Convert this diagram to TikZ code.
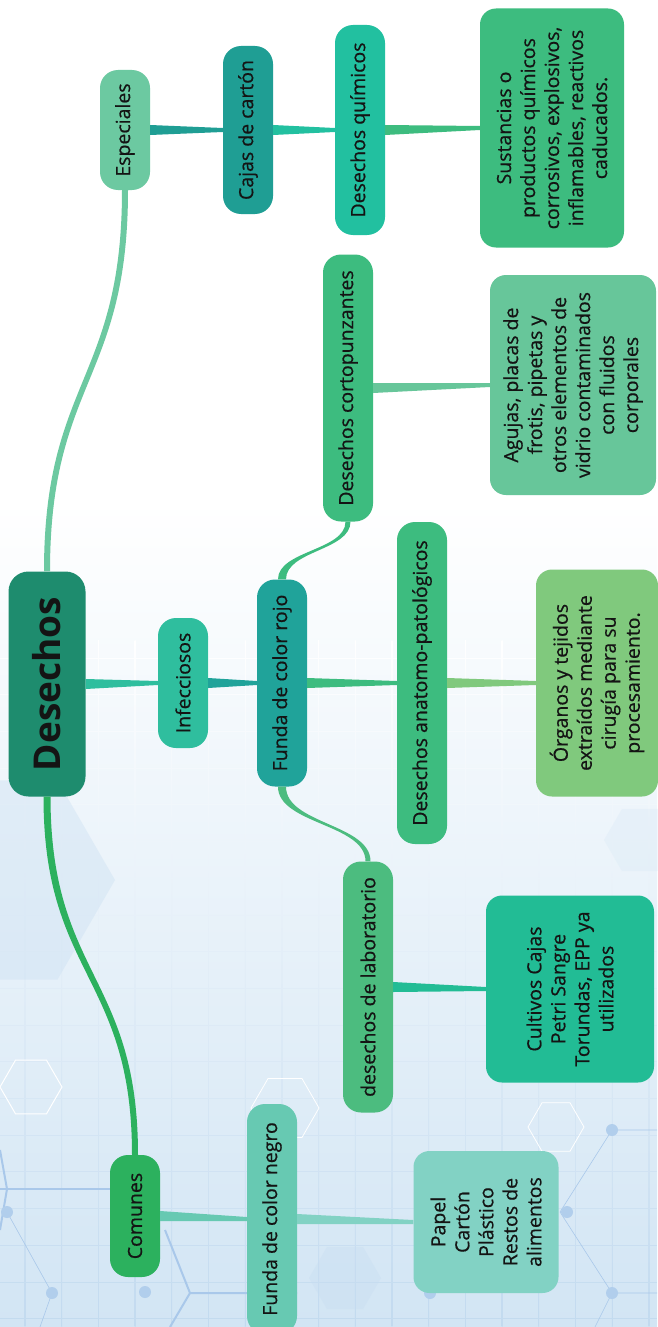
\documentclass[tikz,border=0pt]{standalone}
\usepackage{fontspec}
\setmainfont{Open Sans}
\newfontfamily\medfont{Open Sans}[FakeBold=0.6]
\usetikzlibrary{calc}

\definecolor{ink}{HTML}{141414}
\definecolor{bgblue}{HTML}{D2E5F4}
\definecolor{gridc}{HTML}{C2DAEF}
\definecolor{netc}{HTML}{A9C8EA}
\definecolor{rootc}{HTML}{1E8C6E}
\definecolor{especc}{HTML}{6CC9A1}
\definecolor{cajac}{HTML}{1F9E94}
\definecolor{quimc}{HTML}{22C0A0}
\definecolor{sustc}{HTML}{3DBC7F}
\definecolor{cortoc}{HTML}{3DBC7F}
\definecolor{agujc}{HTML}{67C69A}
\definecolor{infecc}{HTML}{2FBE9E}
\definecolor{rojoc}{HTML}{20A39A}
\definecolor{anatc}{HTML}{3DBC7F}
\definecolor{organc}{HTML}{80C97D}
\definecolor{labc}{HTML}{4CBC7F}
\definecolor{cultc}{HTML}{22BC95}
\definecolor{comunc}{HTML}{2CB15E}
\definecolor{negroc}{HTML}{67C9B2}
\definecolor{papelc}{HTML}{82D2C4}

% straight branch, wide at the parent, narrow at the child
\newcommand\twig[3]{%
  \fill[#3] ([yshift=5pt]#1.south) -- ([yshift=2pt]#2.north)
    -- ([yshift=-2pt]#2.north) -- ([yshift=-5pt]#1.south) -- cycle;}

% curved branch between two anchors stacked above each other
\newcommand\vine[5]{%
  \coordinate (mid) at ($(#1)!.5!(#2)$);
  \fill[#3] ([xshift=-#4]#1) .. controls ([xshift=-#4]#1 |- mid) and ([xshift=-#5]#2 |- mid) .. ([xshift=-#5]#2)
    -- ([xshift=#5]#2) .. controls ([xshift=#5]#2 |- mid) and ([xshift=#4]#1 |- mid) .. ([xshift=#4]#1) -- cycle;}

\begin{document}
\begin{tikzpicture}[x=1pt, y=-1pt,
  pill/.style={rounded corners=18pt, rotate=90, minimum height=50pt, inner sep=2pt,
    text=ink, font=\medfont\fontsize{19.5}{24}\selectfont},
  box/.style={rounded corners=16pt, rotate=90, align=center, inner sep=4pt,
    text=ink, font=\medfont\fontsize{19.5}{24}\selectfont}]
  \useasboundingbox (0,0) rectangle (657,1327);

  % background
  \fill[white] (0,0) rectangle (657,1327);
  \shade[top color=white, bottom color=bgblue] (0,500) rectangle (657,1327);
  \foreach \x in {25,61.7,...,657}
    \shade[top color=white, bottom color=gridc] (\x-.4,640) rectangle (\x+.4,1327);
  \foreach \y in {658,694.7,...,1327} {
    \pgfmathtruncatemacro\p{(\y-640)/6.87}
    \draw[gridc!\p!white, line width=.8pt] (0,\y) -- (657,\y);
  }
  \fill[bgblue!80!netc, opacity=.4]
    (0,880) +(0:115) -- +(60:115) -- +(120:115) -- +(180:115) -- +(240:115) -- +(300:115) -- cycle;
  \fill[bgblue!70!netc, opacity=.35]
    (345,1278) +(0:36) -- +(60:36) -- +(120:36) -- +(180:36) -- +(240:36) -- +(300:36) -- cycle;
  \fill[bgblue, opacity=.25]
    (640,840) +(0:36) -- +(60:36) -- +(120:36) -- +(180:36) -- +(240:36) -- +(300:36) -- cycle;
  \draw[white, line width=1pt]
    (31,1087) +(0:31) -- +(60:31) -- +(120:31) -- +(180:31) -- +(240:31) -- +(300:31) -- cycle;
  \draw[white, line width=.8pt]
    (285,1108) +(0:34) -- +(60:34) -- +(120:34) -- +(180:34) -- +(240:34) -- +(300:34) -- cycle;
  \draw[white, line width=.8pt]
    (556,1127) +(0:28) -- +(60:28) -- +(120:28) -- +(180:28) -- +(240:28) -- +(300:28) -- cycle;
  \draw[netc, line width=2pt] (0,1189) -- (110,1189);
  \draw[netc, line width=2pt] (0,1150) -- (7,1189) -- (0,1230);
  \draw[netc, line width=2pt] (165,1230) -- (190,1293) -- (297,1293);
  \draw[netc, line width=2pt] (190,1293) -- (170,1327);
  \draw[netc, line width=.6pt] (7,1212) -- (52,1293) -- (40,1327);
  \draw[netc, line width=.6pt] (560,1212) -- (612,1130) -- (657,1130);
  \draw[netc, line width=.6pt] (560,1212) -- (612,1293) -- (657,1293);
  \draw[netc, line width=.6pt] (612,1293) -- (595,1327);
  \foreach \px/\py in {7/1212, 52/1293, 145/1292, 430/1293, 612/1130, 567/1212, 612/1293}
    \fill[netc!80!bgblue] (\px,\py) circle (6);

  % nodes
  \node[pill, fill=rootc, minimum width=225pt, minimum height=77pt, rounded corners=20pt,
    font=\fontsize{37}{40}\selectfont\bfseries] (root) at (47,684) {Desechos};

  \node[pill, fill=especc, minimum width=120pt] (esp) at (125,130) {Especiales};
  \node[pill, fill=cajac, minimum width=168pt] (caja) at (248,130) {Cajas de cartón};
  \node[pill, fill=quimc, minimum width=210pt] (quim) at (360,130) {Desechos químicos};
  \node[box, fill=sustc, minimum width=239pt, minimum height=144pt] (sust) at (552,128)
    {Sustancias o\\productos químicos\\corrosivos, explosivos,\\inflamables, reactivos\\caducados.};

  \node[pill, fill=infecc, minimum width=130pt] (infec) at (183,683) {Infecciosos};
  \node[pill, fill=rojoc, minimum width=207pt] (rojo) at (282,683) {Funda de color rojo};
  \node[pill, fill=cortoc, minimum width=267pt] (corto) at (348,388) {Desechos cortopunzantes};
  \node[box, fill=agujc, minimum width=220pt, minimum height=166pt] (aguj) at (573,385)
    {Agujas, placas de\\frotis, pipetas y\\otros elementos de\\vidrio contaminados\\con fluidos\\corporales};
  \node[pill, fill=anatc, minimum width=322pt] (anat) at (422,683) {Desechos anatomo-patológicos};
  \node[box, fill=organc, minimum width=227pt, minimum height=122pt] (organ) at (597,683)
    {Órganos y tejidos\\extraídos mediante\\cirugía para su\\procesamiento.};
  \node[pill, fill=labc, minimum width=251pt] (lab) at (368,987) {desechos de laboratorio};
  \node[box, fill=cultc, minimum width=187pt, minimum height=168pt] (cult) at (570,989)
    {Cultivos Cajas\\Petri Sangre\\Torundas, EPP ya\\utilizados};

  \node[pill, fill=comunc, minimum width=122pt] (comun) at (135,1216) {Comunes};
  \node[pill, fill=negroc, minimum width=230pt] (negro) at (272,1219) {Funda de color negro};
  \node[box, fill=papelc, minimum width=142pt, minimum height=145pt] (papel) at (486,1222)
    {Papel\\Cartón\\Plástico\\Restos de\\alimentos};

  % branches
  \vine{root.east}{esp.west}{especc}{3pt}{3pt}
  \vine{root.west}{comun.east}{comunc}{3.5pt}{3pt}
  \vine{rojo.east}{corto.west}{cortoc}{4pt}{2.5pt}
  \vine{rojo.west}{lab.east}{labc}{4pt}{2.5pt}

  \twig{esp}{caja}{cajac}
  \twig{caja}{quim}{quimc}
  \twig{quim}{sust}{sustc}
  \twig{root}{infec}{infecc}
  \twig{infec}{rojo}{rojoc}
  \twig{rojo}{anat}{anatc}
  \twig{anat}{organ}{organc}
  \twig{corto}{aguj}{agujc}
  \twig{lab}{cult}{cultc}
  \twig{comun}{negro}{negroc}
  \twig{negro}{papel}{papelc}
\end{tikzpicture}
\end{document}
